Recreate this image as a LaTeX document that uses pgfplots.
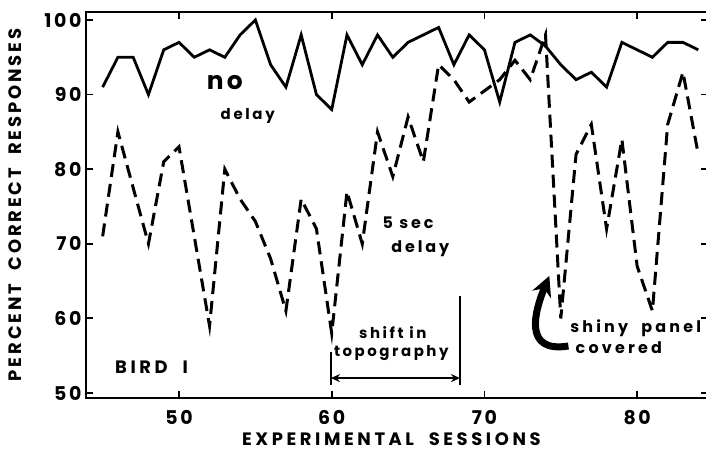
\documentclass[border=0pt]{standalone}
\usepackage{fontspec}
\setmainfont{Poppins}
\usepackage{pgfplots}
\usepackage{pgfplotstable}
\pgfplotsset{compat=1.18}
\usetikzlibrary{arrows.meta}

\pgfplotstableread{
x y
45 91
46 95
47 95
48 90
49 96
50 97
51 95
52 96
53 95
54 98
55 100
56 94
57 91
58 98
59 90
60 88
61 98
62 94
63 98
64 95
65 97
66 98
67 99
68 94
69 98
70 96
71 89
72 97
73 98
74 96.5
75 94
76 92
77 93
78 91
79 97
80 96
81 95
82 97
83 97
84 96
}\nodelay

\pgfplotstableread{
x y
45 71
46 85
47 77.5
48 70
49 81
50 83
51 71
52 59
53 80
54 76
55 73
56 68
57 61
58 76
59 72
60 58
61 77
62 70
63 85
64 79
65 87
66 81
67 94
68 92
69 89
70 90.5
71 92
72 94.6
73 92
74 98
75 60
76 82
77 86
78 72
79 84
80 67
81 61
82 86
83 93
84 82
}\delayfive

\newcommand{\fs}[2]{\bfseries\fontsize{#2}{#2}\selectfont\addfontfeature{LetterSpace=#1}}

\begin{document}
\begin{tikzpicture}
\begin{axis}[
  at={(0,0)}, anchor=south west,
  scale only axis, width=622bp, height=386bp,
  xmin=43.91, xmax=84.64, ymin=49.33, ymax=101.07,
  xtick={50,60,70,80}, ytick={50,60,70,80,90,100},
  xtick pos=both, ytick pos=both,
  xticklabel pos=lower, yticklabel pos=left,
  tick align=inside, major tick length=7bp,
  axis line style={line width=2.2bp},
  every tick/.style={line width=1.8bp, black},
  /pgf/number format/assume math mode=true,
  ticklabel style={font=\fs{14}{19}},
  xticklabel style={yshift=-9bp},
  yticklabel style={xshift=-1bp},
  xlabel={EXPERIMENTAL\ \ SESSIONS},
  ylabel={PERCENT\ \ CORRECT\ \ RESPONSES},
  every axis x label/.style={at={(axis description cs:0.491,-0.106)}, anchor=center, font=\fs{20}{18}},
  every axis y label/.style={at={(axis description cs:-0.114,0.5)}, rotate=90, anchor=center, font=\fs{16}{18}},
  clip=false,
]
\addplot[black, line width=2.8bp, line join=miter] table {\nodelay};
\addplot[black, line width=3bp, dash pattern=on 13bp off 7bp] table {\delayfive};

\node[font={\fs{12}{25}}] at (axis cs:53.0,91.6) {no};
\node[font={\fs{18}{15}}] at (axis cs:54.5,87.2) {delay};
\node[font={\fs{18}{16}}] at (axis cs:65.0,72.8) {5 sec};
\node[font={\fs{18}{16}}] at (axis cs:65.8,69.4) {delay};
\node[font={\fs{20}{18}}] at (axis cs:48.2,53.4) {BIRD\ \ I};
\node[font={\fs{17}{15}}] at (axis cs:64.0,58.1) {shift in};
\node[font={\fs{17}{15}}] at (axis cs:63.9,55.4) {topography};
\node[font={\fs{20}{16}}] at (axis cs:79.9,58.7) {shiny\ \ panel};
\node[font={\fs{20}{16}}] at (axis cs:78.8,56.1) {covered};

\draw[line width=1.3bp] (axis cs:59.95,55.5) -- (axis cs:59.95,51.07);
\draw[line width=1.3bp] (axis cs:68.4,63.0) -- (axis cs:68.4,51.07);
\draw[line width=1.6bp, {Stealth[length=9bp,width=8bp]}-{Stealth[length=9bp,width=8bp]}] (axis cs:59.95,52.0) -- (axis cs:68.4,52.0);

\draw[line width=7bp, -{Stealth[length=20bp,width=20bp]}] (axis cs:75.5,56.3) .. controls (axis cs:72.5,55.3) and (axis cs:73.3,61.0) .. (axis cs:74.25,65.7);
\end{axis}
\pgfresetboundingbox
\path (-86bp,-58bp) rectangle (620bp,398bp);
\end{tikzpicture}
\end{document}
